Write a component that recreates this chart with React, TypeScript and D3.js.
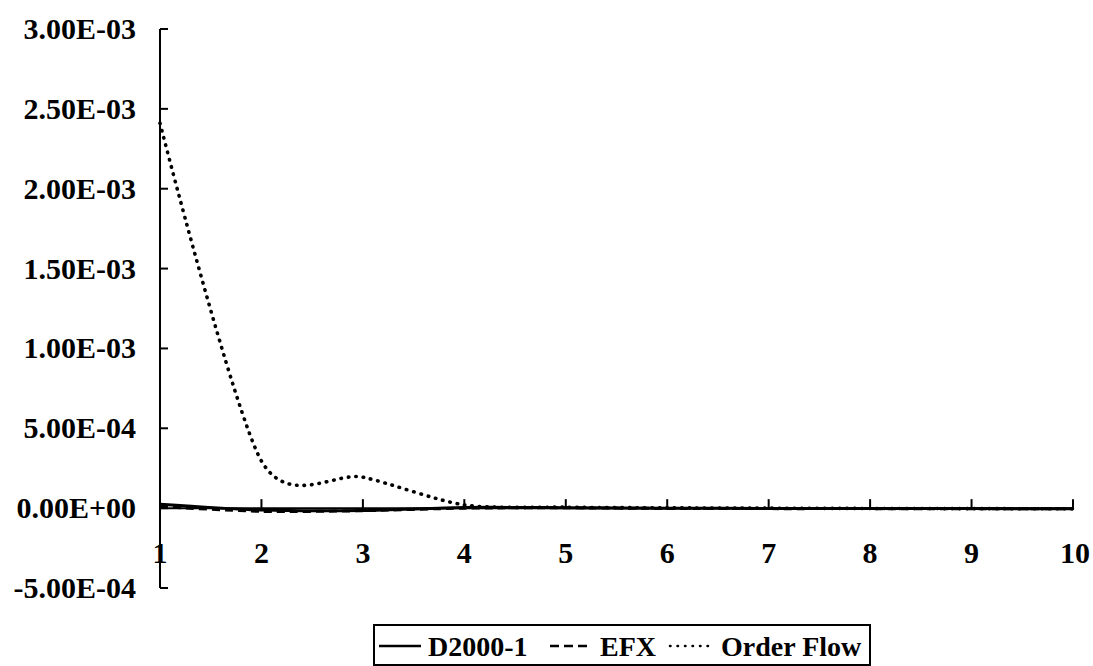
import React from "react";
import * as d3 from "d3";

const categories = [1, 2, 3, 4, 5, 6, 7, 8, 9, 10];
const d2000 = [2.5e-5, -1.2e-5, -1.5e-5, 4e-6, 3e-6, 0, -2e-6, -3e-6, -3e-6, -4e-6];
const efx = [1.0e-5, -2.0e-5, -1.6e-5, 0, 2e-6, -2e-6, -3e-6, -3e-6, -4e-6, -4e-6];
const orderFlow = [2.41e-3, 2.95e-4, 1.94e-4, 2.0e-5, 6e-6, 2e-6, 0, -2e-6, -3e-6, -4e-6];
const yTicks = [3e-3, 2.5e-3, 2e-3, 1.5e-3, 1e-3, 5e-4, 0, -5e-4];
const yTickLabels = ["3.00E-03", "2.50E-03", "2.00E-03", "1.50E-03", "1.00E-03", "5.00E-04", "0.00E+00", "-5.00E-04"];
const seriesNames = ["D2000-1", "EFX", "Order Flow"];

export default function App() {
  const W = 1093, H = 666;
  const x = d3.scaleLinear().domain([1, 10]).range([160, 1073]);
  const y = d3.scaleLinear().domain([-5e-4, 3e-3]).range([588, 29]);
  const line = (vals: number[]) =>
    d3.line<number>()
      .x((_, i) => x(categories[i]))
      .y((v) => y(v))
      .curve(d3.curveCardinal.tension(0.2))(vals) || "";
  const font = "Liberation Serif, DejaVu Serif, serif";
  const series = [
    { vals: d2000, dash: undefined as string | undefined, cap: "butt", w: 3 },
    { vals: efx, dash: "8,5", cap: "butt", w: 3 },
    { vals: orderFlow, dash: "0.5,7", cap: "round", w: 3.6 },
  ];
  // legend layout
  const lgX = 374, lgY = 625, lgW = 496, lgH = 40;
  const items = [
    { sx: 379, len: 42, tx: 428, dash: undefined as string | undefined, cap: "butt" },
    { sx: 550, len: 42, tx: 600, dash: "9,5", cap: "butt" },
    { sx: 670, len: 38, tx: 721, dash: "0.5,7", cap: "round" },
  ];
  return (
    <div style={{ position: "fixed", left: 0, top: 0 }}>
      <svg width={W} height={H} style={{ display: "block", background: "#fff" }}>
        {/* y axis */}
        <line x1={160} x2={160} y1={y(3e-3)} y2={y(-5e-4)} stroke="#000" strokeWidth={2} />
        {yTicks.map((t, i) => (
          <g key={i}>
            <line x1={160} x2={168} y1={y(t)} y2={y(t)} stroke="#000" strokeWidth={2} />
            <text x={136} y={y(t) + 10} textAnchor="end" fontFamily={font} fontWeight="bold" fontSize={30}>
              {yTickLabels[i]}
            </text>
          </g>
        ))}
        {/* x axis */}
        <line x1={160} x2={x(10)} y1={y(0)} y2={y(0)} stroke="#000" strokeWidth={2} />
        {categories.map((c) => (
          <g key={c}>
            {c > 1 && <line x1={x(c)} x2={x(c)} y1={y(0)} y2={y(0) - 9} stroke="#000" strokeWidth={2} />}
            <text x={x(c) + (c === 10 ? 2 : 0)} y={563} textAnchor="middle" fontFamily={font} fontWeight="bold" fontSize={30}>
              {c}
            </text>
          </g>
        ))}
        {/* series */}
        {series.map((s, i) => (
          <path key={i} d={line(s.vals)} fill="none" stroke="#000" strokeWidth={s.w}
            strokeDasharray={s.dash} strokeLinecap={s.cap as any} />
        ))}
        {/* legend */}
        <rect x={lgX} y={lgY} width={lgW} height={lgH} fill="#fff" stroke="#000" strokeWidth={2} />
        {items.map((it, i) => (
          <g key={i}>
            <line x1={it.sx} x2={it.sx + it.len} y1={lgY + 21} y2={lgY + 21} stroke="#000" strokeWidth={2.5}
              strokeDasharray={it.dash} strokeLinecap={it.cap as any} />
            <text x={it.tx} y={lgY + 31} fontFamily={font} fontWeight="bold" fontSize={28}>{seriesNames[i]}</text>
          </g>
        ))}
      </svg>
    </div>
  );
}
